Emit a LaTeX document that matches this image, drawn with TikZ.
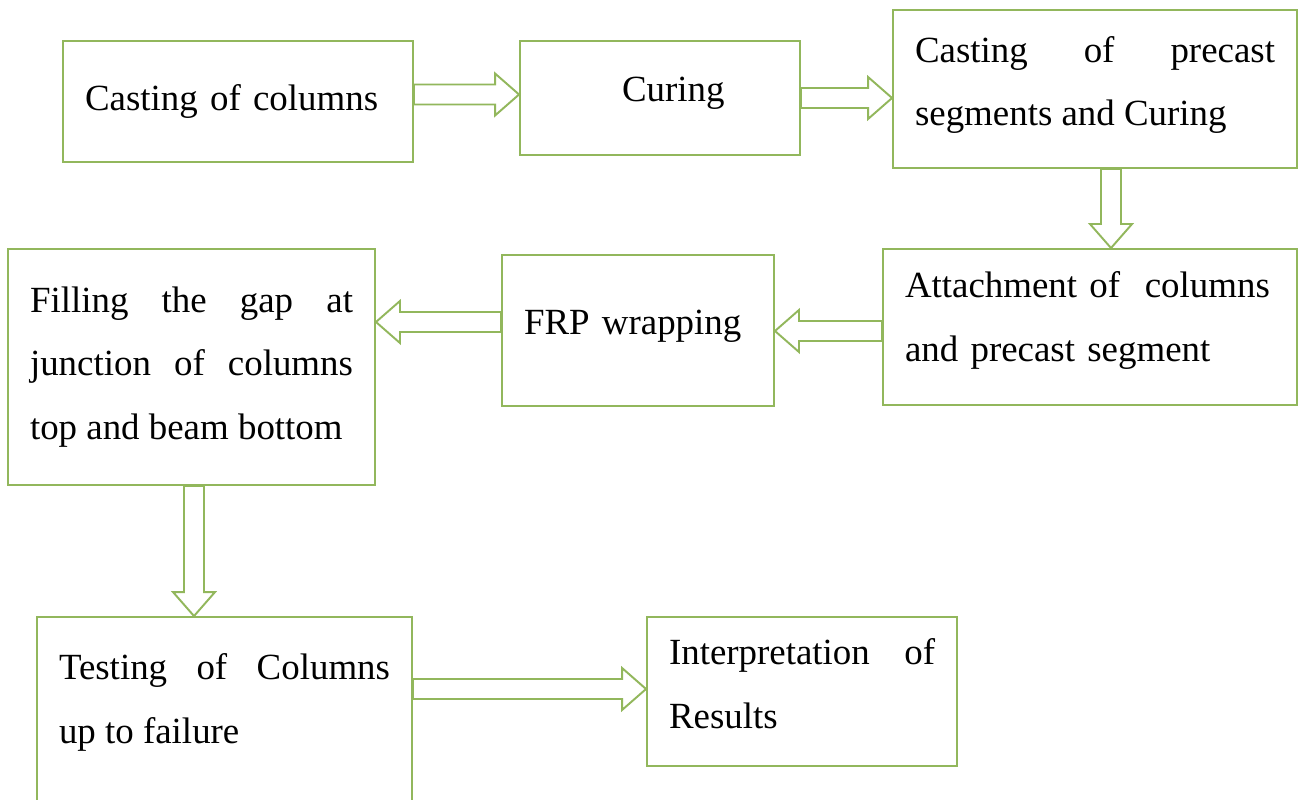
\documentclass[tikz,border=0pt]{standalone}
\usepackage{fontspec}
\setmainfont{Liberation Serif}
\usetikzlibrary{calc}
\definecolor{boxGreen}{RGB}{146,183,92}
\tikzstyle{greenBox} = [rectangle, draw=boxGreen, line width=1.1pt, inner xsep=0.44cm, inner ysep=0pt, font=\fontsize{21}{36}\selectfont, align=justify]
\tikzstyle{blockArrow} = [draw=boxGreen, line width=1.1pt, fill=white, line join=miter]
\newcommand{\textLift}[1]{\rule[-#1]{0pt}{0pt}}
\newcommand{\flowArrow}[2]{%
	\coordinate (head) at ($(#2)!0.48cm!(#1)$);
	\draw [blockArrow] ($(#1)!0.2cm!90:(#2)$) -- ($(head)!0.2cm!90:(#2)$) -- ($(head)!0.42cm!90:(#2)$) -- (#2) -- ($(head)!0.42cm!-90:(#2)$) -- ($(head)!0.2cm!-90:(#2)$) -- ($(#1)!0.2cm!-90:(#2)$) -- cycle;
}

\begin{document}
\begin{tikzpicture}
		\clip (0,0) rectangle (25.96,-16);
		\fill [white] (0,0) rectangle (25.96,-16);
		\node (c1) [greenBox, minimum width=7cm, minimum height=2.42cm, text width=6.12cm, align=left] at (4.76,-2.03) {Casting of columns};
		\node (cure) [greenBox, minimum width=5.6cm, minimum height=2.28cm, text width=4.72cm, align=left] at (13.2,-1.96) {\hspace*{1.6cm}Curing\textLift{0.36cm}};
		\node (cast) [greenBox, minimum width=8.08cm, minimum height=3.16cm, text width=7.2cm] at (21.9,-1.78) {Casting of precast\linebreak segments and Curing\textLift{0.32cm}};
		\node (attach) [greenBox, minimum width=8.28cm, minimum height=3.12cm, text width=7.4cm, align=left] at (21.8,-6.54) {Attachment of\ \ columns\\and precast segment\textLift{0.42cm}};
		\node (frp) [greenBox, minimum width=5.44cm, minimum height=3.02cm, text width=4.56cm, align=left] at (12.76,-6.61) {FRP wrapping\textLift{0.32cm}};
		\node (fill) [greenBox, minimum width=7.34cm, minimum height=4.72cm, text width=6.46cm] at (3.83,-7.34) {Filling the gap at\linebreak junction of columns\linebreak top and beam bottom};
		\node (test) [greenBox, minimum width=7.5cm, minimum height=3.78cm, text width=6.62cm] at (4.49,-14.23) {Testing of Columns\linebreak up to failure\textLift{0.52cm}};
		\node (result) [greenBox, minimum width=6.2cm, minimum height=2.98cm, text width=5.32cm] at (16.04,-13.83) {Interpretation of\linebreak Results\textLift{0.32cm}};
		\coordinate (a1s) at ([yshift=0.14cm]c1.east);
		\coordinate (a3s) at ([xshift=0.32cm]cast.south);
		\coordinate (a4s) at ([yshift=-0.08cm]attach.west);
		\coordinate (a5s) at ([yshift=0.17cm]frp.west);
		\coordinate (a6s) at ([xshift=0.05cm]fill.south);
		\coordinate (a7s) at ([yshift=0.45cm]test.east);
		\flowArrow{a1s}{cure.west |- a1s}
		\flowArrow{cure.east}{cast.west |- cure.east}
		\flowArrow{a3s}{a3s |- attach.north}
		\flowArrow{a4s}{frp.east |- a4s}
		\flowArrow{a5s}{fill.east |- a5s}
		\flowArrow{a6s}{a6s |- test.north}
		\flowArrow{a7s}{result.west |- a7s}
	\end{tikzpicture}
\end{document}
